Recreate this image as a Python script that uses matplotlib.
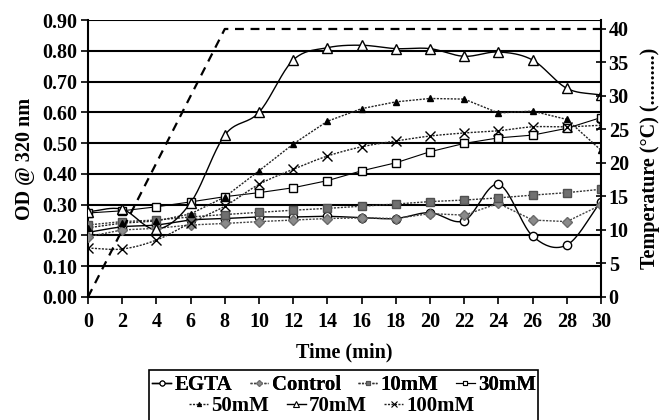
import numpy as np
import matplotlib
matplotlib.use("Agg")
import matplotlib.pyplot as plt
from matplotlib.lines import Line2D
from matplotlib.patches import Rectangle

time_min = [0, 2, 4, 6, 8, 10, 12, 14, 16, 18, 20, 22, 24, 26, 28, 30]
egta = [0.21, 0.228, 0.234, 0.25, 0.255, 0.26, 0.26, 0.262, 0.258, 0.255, 0.274, 0.248, 0.366, 0.198, 0.169, 0.31]
control = [0.196, 0.218, 0.223, 0.234, 0.239, 0.245, 0.25, 0.255, 0.257, 0.255, 0.271, 0.266, 0.304, 0.25, 0.245, 0.299]
mm10 = [0.234, 0.245, 0.25, 0.26, 0.268, 0.275, 0.282, 0.288, 0.295, 0.302, 0.31, 0.315, 0.322, 0.331, 0.339, 0.35]
mm30 = [0.273, 0.28, 0.293, 0.309, 0.326, 0.339, 0.355, 0.378, 0.41, 0.436, 0.472, 0.499, 0.517, 0.526, 0.548, 0.583]
mm50 = [0.225, 0.24, 0.247, 0.27, 0.325, 0.41, 0.497, 0.571, 0.612, 0.634, 0.645, 0.643, 0.598, 0.604, 0.577, 0.477]
mm70 = [0.277, 0.285, 0.22, 0.306, 0.526, 0.60, 0.77, 0.81, 0.818, 0.807, 0.807, 0.782, 0.796, 0.77, 0.678, 0.656]
mm100 = [0.159, 0.156, 0.185, 0.241, 0.295, 0.366, 0.415, 0.458, 0.488, 0.507, 0.523, 0.533, 0.54, 0.553, 0.553, 0.558]
temp_time = [0, 8, 30]
temp_c = [0, 40, 40]

labels = ["EGTA", "Control", "10mM", "30mM", "50mM", "70mM", "100mM"]

FONT = "Liberation Serif"
plt.rcParams['font.family'] = [FONT, 'DejaVu Serif']
plt.rcParams['font.weight'] = 'bold'
FS = 14.5


def smooth(x, y, n=20):
    x = np.asarray(x, float); y = np.asarray(y, float)
    P = np.column_stack([x, y])
    P = np.vstack([P[0] - (P[1] - P[0]), P, P[-1] + (P[-1] - P[-2])])
    out = []
    for i in range(1, len(P) - 2):
        p0, p1, p2, p3 = P[i - 1], P[i], P[i + 1], P[i + 2]
        t = np.linspace(0, 1, n, endpoint=False)[:, None]
        c = 0.5 * ((2 * p1) + (-p0 + p2) * t + (2 * p0 - 5 * p1 + 4 * p2 - p3) * t ** 2
                   + (-p0 + 3 * p1 - 3 * p2 + p3) * t ** 3)
        out.append(c)
    out.append(P[-2][None, :])
    out = np.vstack(out)
    return out[:, 0], out[:, 1]


fig = plt.figure(figsize=(6.63, 4.2), dpi=100)
ax = fig.add_axes([88 / 663, 1 - 297 / 420, (601 - 88) / 663, (297 - 20) / 420])

dot = (0, (1.5, 1))
styles = [
    dict(data=egta, marker='o', mfc='white', mec='black', ms=6, ls='-', color='black', sm=True),
    dict(data=control, marker='D', mfc='#8a8a8a', mec='#6a6a6a', ms=5, ls=dot, color='#444444', sm=False),
    dict(data=mm10, marker='s', mfc='#707070', mec='#505050', ms=5.5, ls=dot, color='#333333', sm=False),
    dict(data=mm30, marker='s', mfc='white', mec='black', ms=6, ls='-', color='black', sm=False),
    dict(data=mm50, marker='^', mfc='black', mec='black', ms=5, ls=dot, color='#222222', sm=False),
    dict(data=mm70, marker='^', mfc='white', mec='black', ms=7, ls='-', color='black', sm=True),
    dict(data=mm100, marker='x', mfc='black', mec='black', ms=7, ls=dot, color='#222222', sm=True),
]

handles = []
for lab, st in zip(labels, styles):
    y = st['data']
    lw = 0.8 if lab == "30mM" else 1.0
    if st['sm']:
        sx, sy = smooth(time_min, y)
        ax.plot(sx, sy, ls=st['ls'], color=st['color'], lw=lw, zorder=3)
    else:
        ax.plot(time_min, y, ls=st['ls'], color=st['color'], lw=lw, zorder=3)
    ax.plot(time_min, y, ls='none', marker=st['marker'], mfc=st['mfc'], mec=st['mec'],
            ms=st['ms'], mew=1.0, zorder=4)
    handles.append(Line2D([], [], ls=st['ls'], color=st['color'], lw=lw, marker=st['marker'],
                          mfc=st['mfc'], mec=st['mec'], ms=st['ms'] * 0.6, mew=0.8))

ax.set_xlim(0, 30)
ax.set_ylim(0, 0.9)
ax.set_xticks(time_min)
ax.set_xticklabels([str(t) for t in time_min])
yt = np.round(np.arange(0, 0.91, 0.1), 2)
ax.set_yticks(yt)
ax.set_yticklabels([f"{v:.2f}" for v in yt])
for v in yt:
    ax.axhline(v, color='black', lw=1.5, zorder=1)
for s in ['top', 'right']:
    ax.spines[s].set_visible(False)
ax.spines['left'].set_linewidth(1.5)
ax.spines['bottom'].set_linewidth(1.5)
ax.tick_params(axis='both', direction='out', length=5, width=1.2, labelsize=FS, pad=3)
ax.tick_params(axis='x', pad=6)
ax.set_xlabel("Time (min)", fontsize=FS, fontweight='bold', labelpad=7)
ax.set_ylabel("OD @ 320 nm", fontsize=FS, fontweight='bold', labelpad=5)

ax2 = ax.twinx()
ax2.plot(temp_time, temp_c, ls=(0, (4, 3)), color='black', lw=1.6, zorder=2)
ax2.set_ylim(0, 41.34)
ax2.set_yticks([0, 5, 10, 15, 20, 25, 30, 35, 40])
for s in ['top', 'left', 'bottom']:
    ax2.spines[s].set_visible(False)
ax2.spines['right'].set_linewidth(1.5)
ax2.tick_params(axis='y', direction='inout', length=7, width=1.2, labelsize=FS, pad=2)
ax2.set_ylabel("Temperature (°C) (..........)", fontsize=FS, fontweight='bold', labelpad=8)

# legend: two centred rows inside one frame (bottom edge cut off by the figure)
kw = dict(loc='center', frameon=False, handlelength=0.9, handletextpad=0.15,
          columnspacing=0.85, borderpad=0, prop={'weight': 'bold', 'size': 15})
leg1 = fig.legend(handles[:4], labels[:4], bbox_to_anchor=(344 / 663, 1 - 385 / 420), ncol=4, **kw)
leg2 = fig.legend(handles[4:], labels[4:], bbox_to_anchor=(332 / 663, 1 - 406 / 420), ncol=3, **kw)
fig.add_artist(leg1)
fig.patches.append(Rectangle((149 / 663, 1 - 428 / 420), (538 - 149) / 663, (428 - 370) / 420,
                             transform=fig.transFigure, fill=False, ec='black', lw=1.2))

fig.savefig("out.png", dpi=100)
